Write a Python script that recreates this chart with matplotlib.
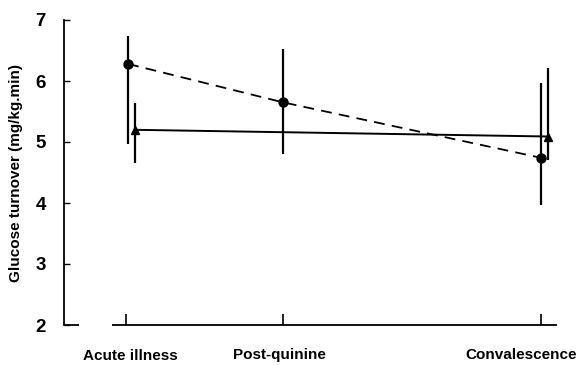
import matplotlib
matplotlib.use("Agg")
import matplotlib.pyplot as plt

plt.rcParams['font.family'] = ['Liberation Sans', 'DejaVu Sans']

# Data
categories = ["Acute illness", "Post-quinine", "Convalescence"]
cat_pos = [0.0, 1.0, 2.64]

circle_x = [0.013, 1.0, 2.645]
circle_y = [6.28, 5.65, 4.74]
circle_err_low = [1.31, 0.84, 0.78]
circle_err_high = [0.46, 0.87, 1.23]

tri_x = [0.057, 2.69]
tri_y = [5.20, 5.09]
tri_err_low = [0.54, 0.39]
tri_err_high = [0.44, 1.12]

yticks = [2, 3, 4, 5, 6, 7]

fig = plt.figure(figsize=(5.79, 3.65), dpi=100)
ax = fig.add_axes([64/579, 1-325/365, (557-64)/579, (325-20)/365])

xmin, xmax = -0.395, 2.745
ax.set_xlim(xmin, xmax)
ax.set_ylim(2, 7)

ax.errorbar(circle_x, circle_y, yerr=[circle_err_low, circle_err_high],
            fmt='o', color='black', ms=6.5, elinewidth=1.6, capsize=0, zorder=3)
ax.plot(circle_x, circle_y, color='black', lw=1.3, ls=(0, (6, 4)), zorder=2)

ax.errorbar(tri_x, tri_y, yerr=[tri_err_low, tri_err_high],
            fmt='^', color='black', ms=6, elinewidth=1.6, capsize=0, zorder=3)
ax.plot(tri_x, tri_y, color='black', lw=1.4, ls='-', zorder=2)

# spines
for s in ['top', 'right', 'bottom']:
    ax.spines[s].set_visible(False)
ax.spines['left'].set_linewidth(1.3)

# broken x axis
ax.plot([xmin, -0.30], [2, 2], color='black', lw=1.3, clip_on=False, solid_capstyle='butt')
ax.plot([-0.09, xmax], [2, 2], color='black', lw=1.3, clip_on=False, solid_capstyle='butt')

ax.set_yticks(yticks)
ax.set_yticklabels([str(v) for v in yticks], fontsize=13.5, fontweight='bold')
ax.tick_params(axis='y', direction='in', length=4, width=1, pad=13)

ax.set_xticks(cat_pos)
ax.set_xticklabels([])
ax.tick_params(axis='x', direction='in', length=8, width=1.2)

# x labels
label_x = [0.025, 0.975]
for lx, lab in zip(label_x, categories[:2]):
    ax.text(lx, 1.50, lab, ha='center', va='center', fontsize=11,
            fontweight='bold', clip_on=False)
fig.text(577/579, 1-355/365, categories[2], ha='right', va='center', fontsize=11,
         fontweight='bold')

ax.set_ylabel("Glucose turnover (mg/kg.min)", fontsize=11, fontweight='bold', labelpad=9)

fig.savefig("out.png", dpi=100)
